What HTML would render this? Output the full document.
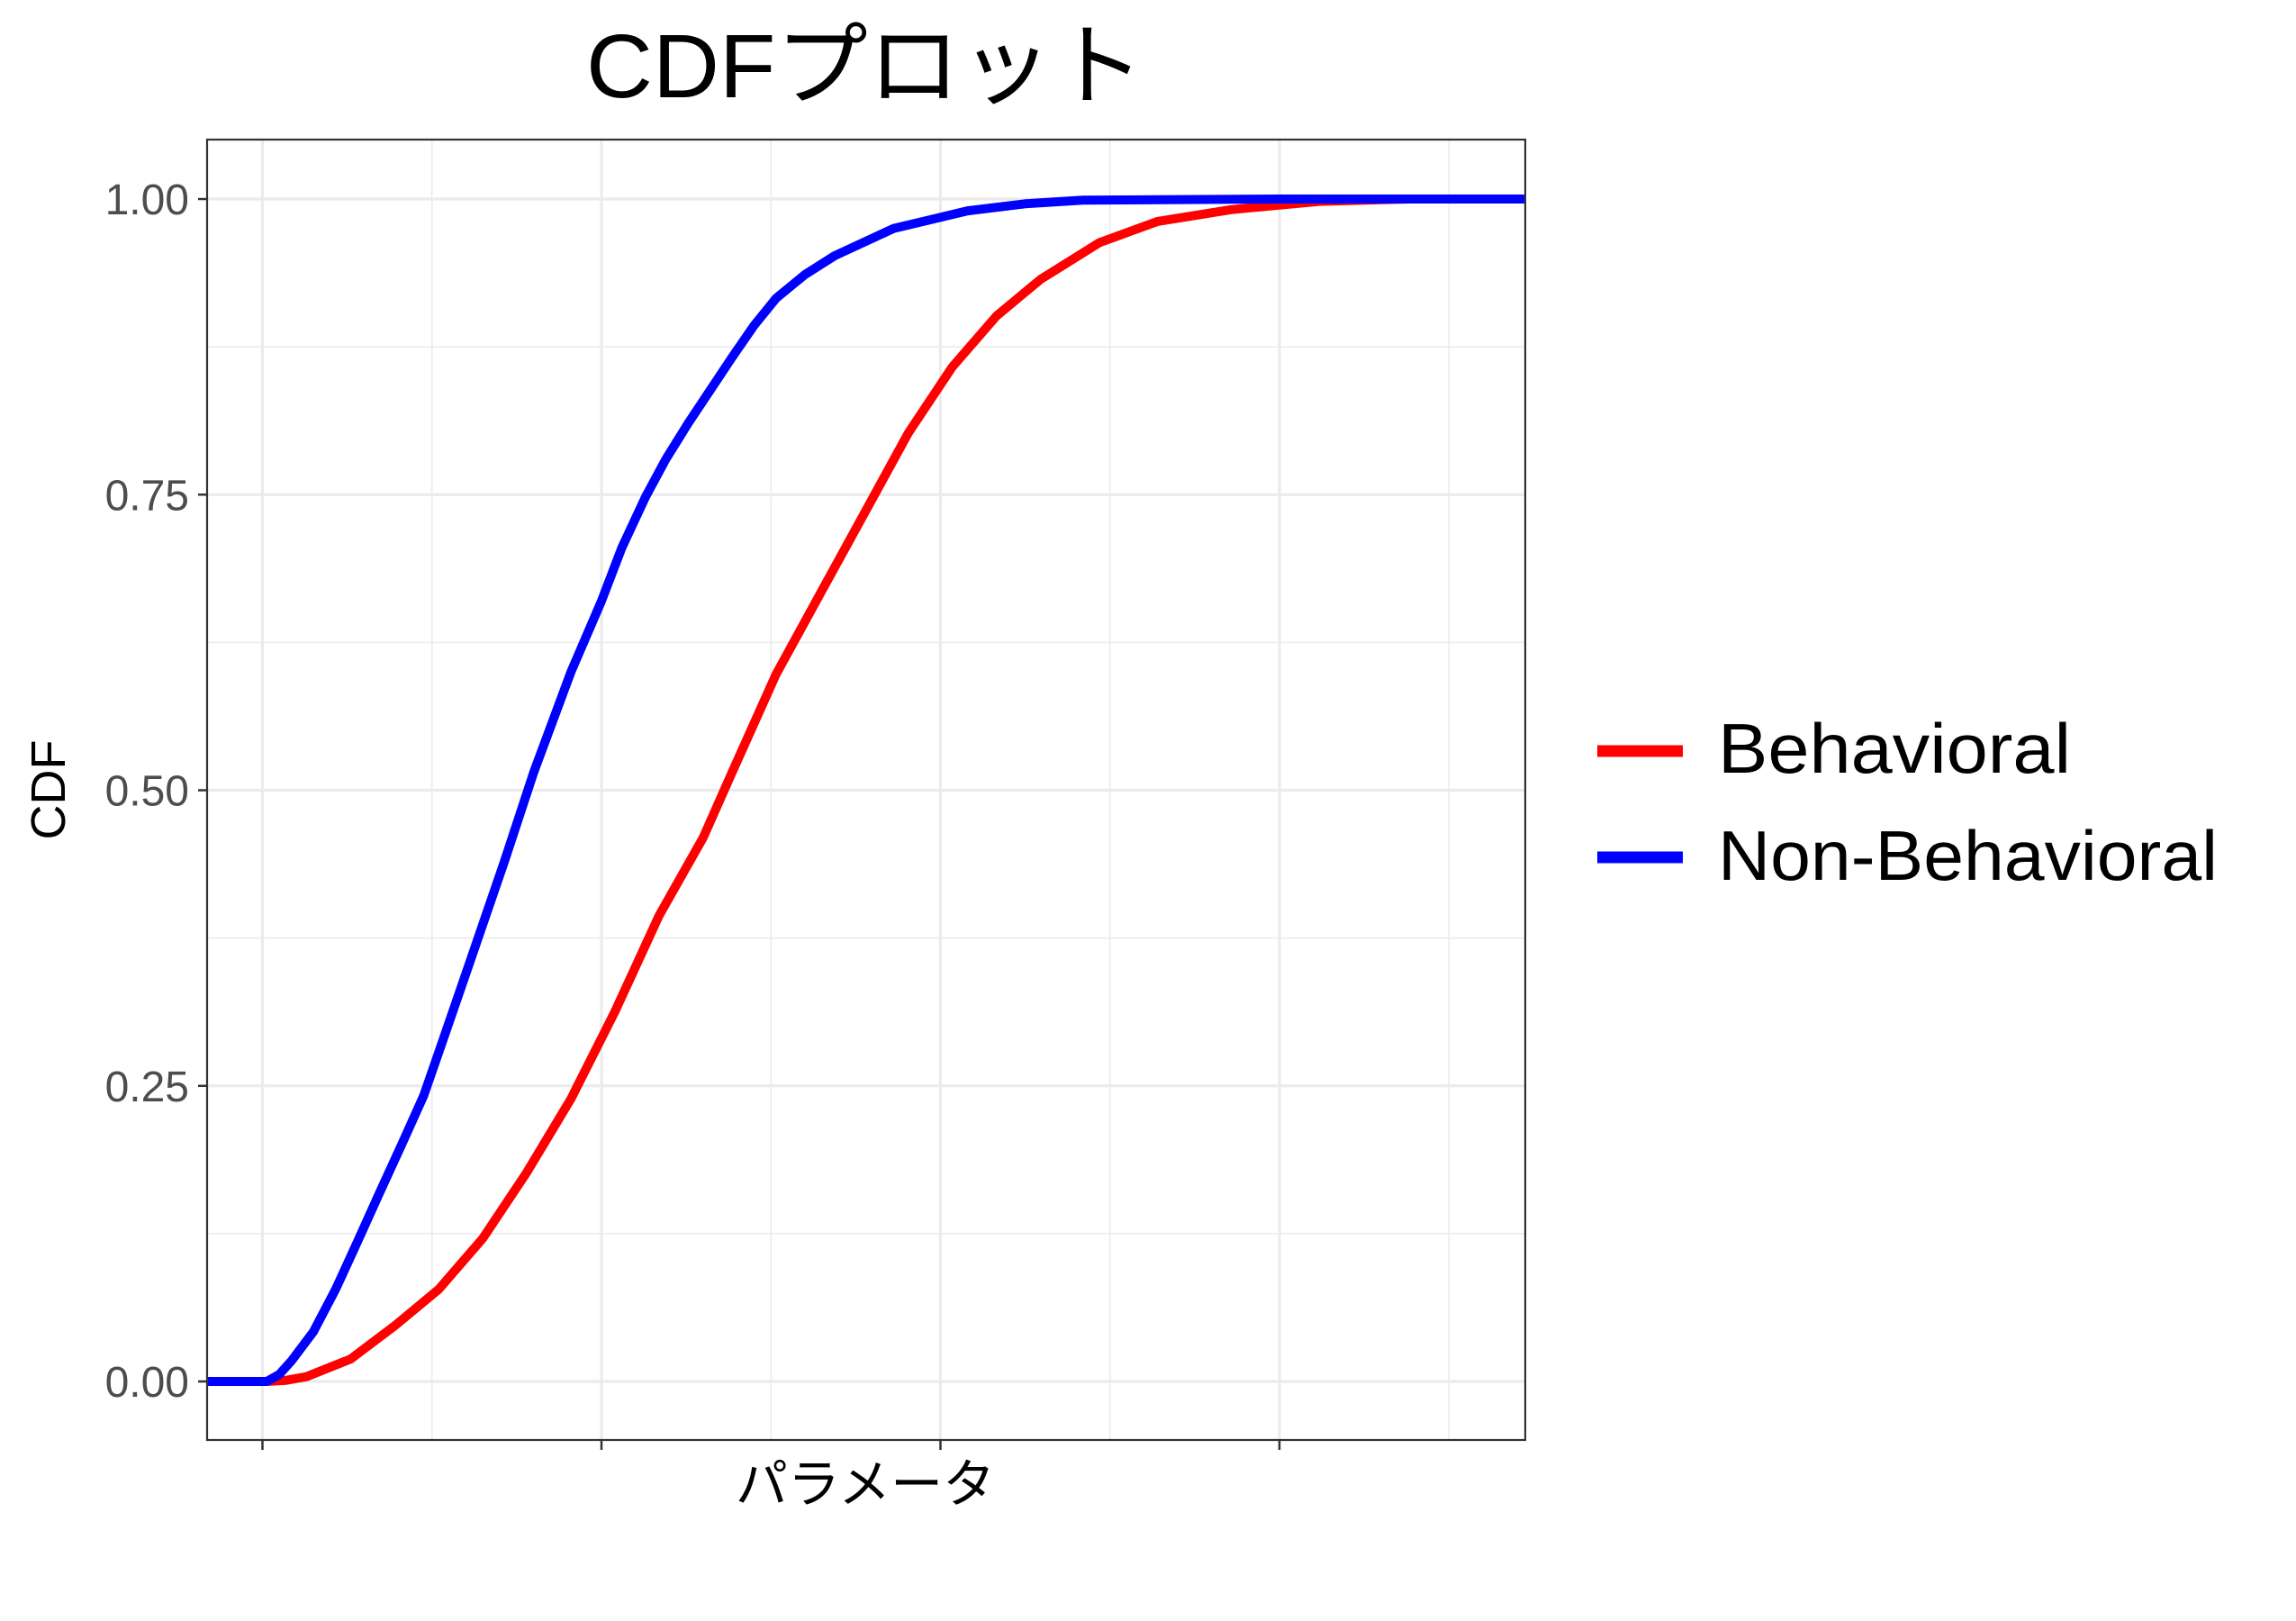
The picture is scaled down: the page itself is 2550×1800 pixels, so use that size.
<!DOCTYPE html>
<html><head><meta charset="utf-8"><style>html,body{margin:0;padding:0;background:#fff}svg{display:block}text{font-family:"Liberation Sans","Noto Sans CJK JP",sans-serif}</style></head>
<body>
<svg id="chart" width="2550" height="1800" viewBox="0 0 2550 1800" xmlns="http://www.w3.org/2000/svg">
<rect width="2550" height="1800" fill="#fff"/>
<text x="961" y="108" font-size="100" text-anchor="middle" fill="#000" textLength="620" lengthAdjust="spacingAndGlyphs">CDFプロット</text>
<g id="grid"></g>
<g id="lines"></g>
<rect x="230" y="155" width="1464" height="1444" fill="none" stroke="#333" stroke-width="2.2"/>
<g id="axes"></g>
<text transform="translate(72,877) rotate(-90)" font-size="54" text-anchor="middle" fill="#000">CDF</text>
<text x="961" y="1668" font-size="58" text-anchor="middle" fill="#000">パラメータ</text>
<g>
<line x1="1774" y1="834" x2="1869" y2="834" stroke="#f00" stroke-width="13"/>
<text x="1908" y="858" font-size="78" fill="#000" textLength="392" lengthAdjust="spacingAndGlyphs">Behavioral</text>
<line x1="1774" y1="952" x2="1869" y2="952" stroke="#00f" stroke-width="13"/>
<text x="1908" y="977" font-size="78" fill="#000" textLength="555" lengthAdjust="spacingAndGlyphs">Non-Behavioral</text>
</g>
</svg>
<script>
const yTicks=[0,0.25,0.5,0.75,1];
const yTickLabels=["0.00","0.25","0.50","0.75","1.00"];
const xTicks=[0,1,2,3];
const blueX=[-0.165,0.013,0.05,0.087,0.15,0.216,0.28,0.346,0.41,0.476,0.54,0.606,0.66,0.714,0.8,0.91,1.0,1.06,1.13,1.19,1.255,1.32,1.385,1.45,1.515,1.6,1.688,1.861,2.08,2.25,2.42,3.0,3.725];
const blueY=[0,0,0.006,0.018,0.042,0.078,0.118,0.16,0.2,0.242,0.295,0.35,0.395,0.44,0.515,0.6,0.66,0.705,0.748,0.78,0.81,0.838,0.866,0.893,0.916,0.936,0.952,0.975,0.99,0.996,0.999,1,1];
const redX=[-0.165,0.013,0.07,0.13,0.26,0.39,0.52,0.65,0.78,0.91,1.04,1.17,1.3,1.385,1.515,1.645,1.775,1.905,2.035,2.165,2.295,2.468,2.64,2.857,3.117,3.38,3.725];
const redY=[0,0,0.001,0.004,0.019,0.047,0.078,0.121,0.177,0.239,0.313,0.394,0.46,0.515,0.598,0.666,0.734,0.802,0.858,0.901,0.932,0.963,0.981,0.991,0.998,1,1];
const NS='http://www.w3.org/2000/svg';
const X0=230,X1=1694,Y0=155,Y1=1599;
const sx=v=>291.5+v*376.5;
const sy=v=>1534-v*1313;
function mk(tag,attrs,parent){const e=document.createElementNS(NS,tag);for(const k in attrs)e.setAttribute(k,attrs[k]);parent.appendChild(e);return e;}
const grid=document.getElementById('grid'),axes=document.getElementById('axes'),lines=document.getElementById('lines');
for(let i=0;i<yTicks.length-1;i++){const v=(yTicks[i]+yTicks[i+1])/2;const l=mk('line',{x1:X0,x2:X1,y1:sy(v),y2:sy(v),stroke:'#ebebeb','stroke-width':1.6},grid);

}
for(let i=0;i<xTicks.length;i++){const v=xTicks[i]+0.5;if(sx(v)>X1)continue;const l=mk('line',{x1:sx(v),x2:sx(v),y1:Y0,y2:Y1,stroke:'#ebebeb','stroke-width':1.6},grid);

}
yTicks.forEach((v,i)=>{const l=mk('line',{x1:X0,x2:X1,y1:sy(v),y2:sy(v),stroke:'#ebebeb','stroke-width':3.2},grid);


const t=mk('line',{x1:X0-10,x2:X0,y1:sy(v),y2:sy(v),stroke:'#333','stroke-width':2.5},axes);


const tx=mk('text',{x:X0-20,y:sy(v)+17,'font-size':48,'text-anchor':'end',fill:'#4d4d4d'},axes);
tx.textContent=yTickLabels[i];

});
xTicks.forEach(v=>{const l=mk('line',{x1:sx(v),x2:sx(v),y1:Y0,y2:Y1,stroke:'#ebebeb','stroke-width':3.2},grid);


const t=mk('line',{x1:sx(v),x2:sx(v),y1:Y1,y2:Y1+11,stroke:'#333','stroke-width':2.5},axes);

});
function path(xs,ys){return xs.map((x,i)=>(i?'L':'M')+sx(x).toFixed(1)+','+sy(ys[i]).toFixed(1)).join('');}
const r=mk('path',{d:path(redX,redY),fill:'none',stroke:'#f00','stroke-width':10,'stroke-linejoin':'round'},lines);


const b=mk('path',{d:path(blueX,blueY),fill:'none',stroke:'#00f','stroke-width':10,'stroke-linejoin':'round'},lines);


</script>
</body></html>
